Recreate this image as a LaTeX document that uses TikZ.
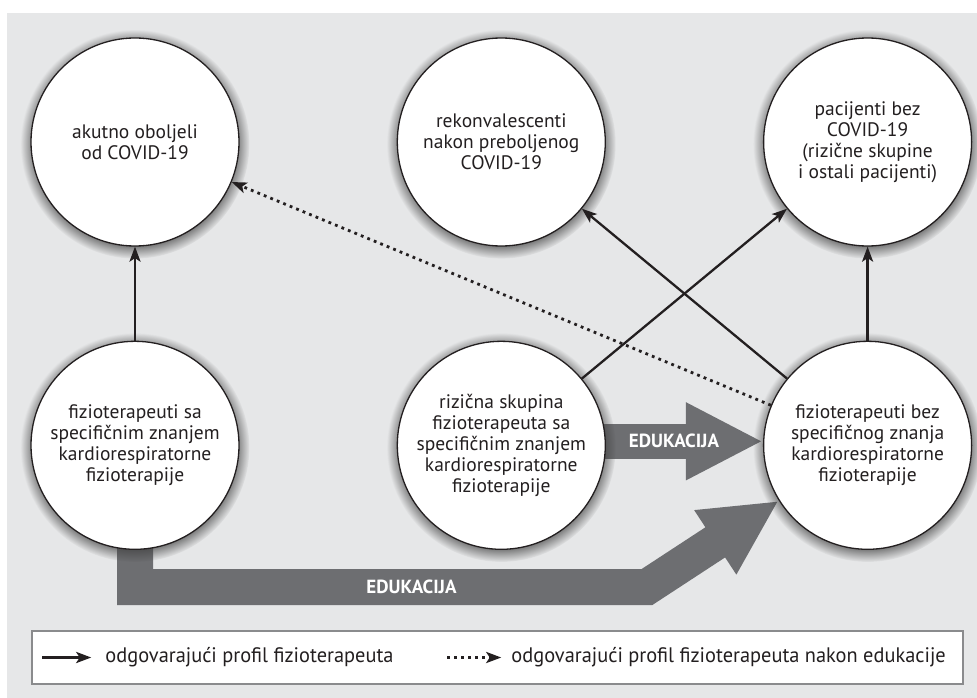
\documentclass[tikz,border=0pt]{standalone}
\usepackage{fontspec}
\setmainfont{PT Sans}
\newfontfamily\legendfont[FakeStretch=0.97]{PT Sans}
\usetikzlibrary{arrows.meta,positioning,shadows,backgrounds}

\definecolor{bggray}{HTML}{E6E7E8}
\definecolor{edugray}{HTML}{6D6E71}
\definecolor{inkblack}{HTML}{231F20}
\definecolor{boxgray}{HTML}{8A8B8D}

\begin{document}
\begin{tikzpicture}[x=1pt, y=-1pt, >={Stealth[length=15pt, width=11pt, inset=3.5pt]},
    krug/.style={draw=inkblack, line width=1.3pt, circle, fill=white, minimum size=208pt,
      inner sep=0pt, align=center, text=inkblack, font=\fontsize{19.5}{21}\selectfont,
      circular drop shadow={shadow xshift=0pt, shadow yshift=-2pt, shadow scale=1.1, opacity=0.85, fill=black!75}},
    veza/.style={->, draw=inkblack, line width=2.3pt},
    tockasto/.style={line width=2.8pt, dash pattern=on 2.8pt off 4.2pt},
    edustrelica/.style={draw=edugray, line join=miter},
    edutekst/.style={text=white, font=\bfseries\fontsize{19}{20}\selectfont},
    legtekst/.style={text=inkblack, inner sep=0pt, font=\legendfont\fontsize{21}{23}\selectfont}]

    \useasboundingbox (0,0) rectangle (977,698);

    % Define nodes
    \node (akutno) [krug] at (135,142) {akutno oboljeli\\od COVID-19};
    \node (rekonv) [krug, right=157pt of akutno] {rekonvalescenti\\nakon preboljenog\\COVID-19};
    \node (pacijenti) [krug, right=157pt of rekonv] {pacijenti bez\\COVID-19\\(rizične skupine\\i ostali pacijenti)};
    \node (sa) [krug, below=94pt of akutno] {fizioterapeuti sa\\specifičnim znanjem\\kardiorespiratorne\\fizioterapije};
    \node (rizicna) [krug, below=94pt of rekonv] {rizična skupina\\fizioterapeuta sa\\specifičnim znanjem\\kardiorespiratorne\\fizioterapije};
    \node (bez) [krug, below=94pt of pacijenti] {fizioterapeuti bez\\specifičnog znanja\\kardiorespiratorne\\fizioterapije};
    \coordinate (zavoj) at (647,587);

    % Grey background and the two broad arrows behind the circles
    \begin{scope}[on background layer]
        \fill[bggray] (7,13) rectangle (977,698);
        \draw[edustrelica, line width=35pt, -{Triangle[length=77pt, width=72pt]}]
            ([yshift=4pt]rizicna.center) -- node[edutekst, pos=0.66] {EDUKACIJA} ([yshift=4pt]bez.west);
        \draw[edustrelica, line width=36pt, -{Triangle[length=76pt, width=71pt]}]
            (sa.center) |- node[edutekst, pos=0.77] {EDUKACIJA} (zavoj) -- (bez.212);
    \end{scope}

    % Connections
    \draw[veza] (sa) -- (akutno);
    \draw[veza] (bez) -- (pacijenti);
    \draw[veza] (bez) -- (rekonv);
    \draw[veza] (rizicna) -- (pacijenti);
    \draw[veza, tockasto] (bez) -- (akutno);

    % Legend
    \node (legenda) [draw=boxgray, line width=1.5pt, fill=white, minimum width=931pt, minimum height=53pt, inner sep=0pt] at (497.5,657.5) {};
    \coordinate (pun1) at ([xshift=11pt]legenda.west);
    \coordinate (pun2) at ([xshift=60pt]legenda.west);
    \draw[veza, line width=3pt] (pun1) -- (pun2);
    \node (puntekst) [legtekst, right=14pt of pun2] {odgovarajući profil fizioterapeuta};
    \coordinate (tock1) at ([xshift=416pt]legenda.west);
    \coordinate (tock2) at ([xshift=470pt]legenda.west);
    \draw[veza, tockasto] (tock1) -- (tock2);
    \node (tocktekst) [legtekst, right=10pt of tock2] {odgovarajući profil fizioterapeuta nakon edukacije};

\end{tikzpicture}
\end{document}
